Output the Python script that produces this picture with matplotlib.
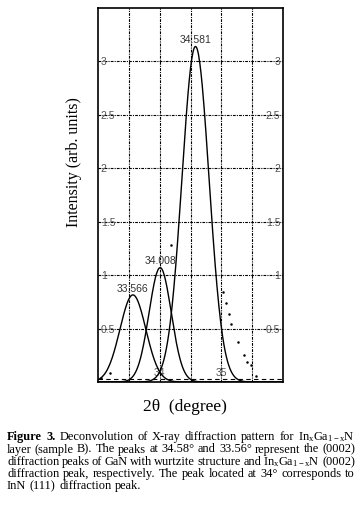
import numpy as np
import matplotlib.pyplot as plt

plt.rcParams['mathtext.fontset'] = 'custom'
plt.rcParams['mathtext.rm'] = 'Liberation Serif'
plt.rcParams['mathtext.it'] = 'Liberation Serif:italic'

# fitted peaks (deconvolution)
peak_pos = [33.566, 34.008, 34.581]
peak_height = [0.815, 1.07, 3.14]
peak_sigma = [0.21, 0.18, 0.22]
peak_labels = ['33.566', '34.008', '34.581']

# measured points that stand out from the fitted curves
data_x = [33.05, 33.19, 34.19, 35.02, 35.08, 35.13, 35.16, 35.27, 35.37, 35.42, 35.48, 35.56]
data_y = [0.04, 0.08, 1.28, 0.84, 0.74, 0.64, 0.54, 0.37, 0.25, 0.19, 0.16, 0.06]

grid_x = [33.5, 34, 34.5, 35, 35.5]
x_labels = ['', '34', '', '35', '']
grid_y = [0.5, 1, 1.5, 2, 2.5, 3]
y_labels = ['0.5', '1', '1.5', '2', '2.5', '3']
baseline = 0.03

W, H = 363, 505
fig = plt.figure(figsize=(W / 100, H / 100), dpi=100)
ax = fig.add_axes([98 / W, 1 - 382 / H, (283 - 98) / W, (382 - 8) / H])

x = np.linspace(33, 36, 301)
for c, h, s in zip(peak_pos, peak_height, peak_sigma):
    ax.plot(x, h * np.exp(-0.5 * ((x - c) / s) ** 2), color='black', lw=1.0)

for c, h, lab in zip(peak_pos, peak_height, peak_labels):
    ax.annotate(lab, (c, h), xytext=(0, 1), textcoords='offset points',
                ha='center', va='bottom', fontsize=7.5, color='#333333',
                family='Liberation Sans')

ax.plot(data_x, data_y, ls='none', marker='.', ms=1.6, color='black')
ax.axhline(baseline, color='black', lw=0.8, ls=(0, (4, 3)))

ax.set_xlim(33, 36)
ax.set_ylim(0, 3.5)
ax.set_xticks(grid_x, x_labels)
ax.set_yticks(grid_y, y_labels)
ax.grid(True, color='black', lw=0.8, ls=(0, (2.5, 1, 1, 1)))
ax.tick_params(axis='x', length=0, pad=-10, labelsize=7.5, labelcolor='#555555')
ax.tick_params(axis='y', length=0, pad=-2, labelleft=True, labelright=True,
               labelsize=7.5, labelcolor='#555555')
for t in ax.yaxis.get_major_ticks():
    t.label1.set_horizontalalignment('left')
    t.label2.set_horizontalalignment('right')
for lab in ax.get_xticklabels() + ax.get_yticklabels():
    lab.set_family('Liberation Sans')
for sp in ax.spines.values():
    sp.set_linewidth(1.2)

fig.text(74 / W, 1 - 162 / H, 'Intensity (arb. units)', rotation=90,
         ha='center', va='center', fontsize=11.5, family='Liberation Serif')
fig.text(185 / W, 1 - 407 / H, '2θ  (degree)', ha='center', va='center',
         fontsize=12.5, family='Liberation Serif')

# caption, justified line by line
ingan = r'$\mathregular{In_xGa_{1-x}N}$'
caption = [
    ['**Figure', '**3.', 'Deconvolution', 'of', 'X-ray', 'diffraction', 'pattern', 'for', ingan],
    ['layer', '(sample', 'B).', 'The', 'peaks', 'at', '34.58°', 'and', '33.56°', 'represent', 'the', '(0002)'],
    ['diffraction', 'peaks', 'of', 'GaN', 'with', 'wurtzite', 'structure', 'and', ingan, '(0002)'],
    ['diffraction', 'peak,', 'respectively.', 'The', 'peak', 'located', 'at', '34°', 'corresponds', 'to'],
    ['InN', '(111)', 'diffraction', 'peak.'],
]
line_y = [437, 449.5, 462, 474, 486]
x0, x1 = 7 / W, 355 / W
r = fig.canvas.get_renderer()
for i, (words, yy) in enumerate(zip(caption, line_y)):
    texts = []
    for w in words:
        bold = w.startswith('**')
        texts.append(fig.text(x0, 1 - yy / H, w.lstrip('*'), fontsize=8.9,
                              fontweight='bold' if bold else 'normal',
                              family='Liberation Serif', va='center'))
    widths = [t.get_window_extent(r).width / W for t in texts]
    if i < len(caption) - 1:
        gap = (x1 - x0 - sum(widths)) / (len(texts) - 1)
    else:
        gap = 3.5 / W
    pos = x0
    for t, w in zip(texts, widths):
        t.set_x(pos)
        pos += w + gap

fig.savefig('out.png', dpi=100)
